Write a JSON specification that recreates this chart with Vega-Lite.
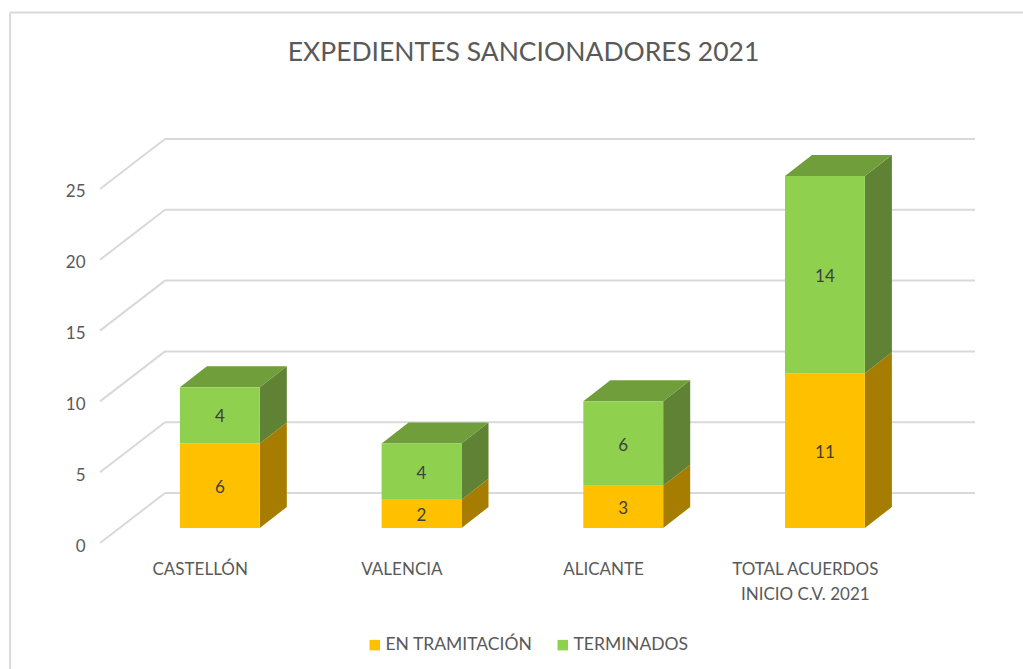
{
"$schema":"https://vega.github.io/schema/vega-lite/v6.json",
"width":875,"height":404,
"autosize":"none",
"padding":{"left":100,"top":139,"right":48,"bottom":126},
"background":"#ffffff",
"title":{"text":"EXPEDIENTES SANCIONADORES 2021","anchor":"middle","dx":-14,"offset":-55,"fontSize":26.5,"font":"Lato","fontWeight":"normal","color":"#595959"},
"config":{"view":{"stroke":null},"font":"Lato"},
"datasets":{
"expedientes":[
{"provincia":"CASTELLÓN","serie":"EN TRAMITACIÓN","valor":6},
{"provincia":"CASTELLÓN","serie":"TERMINADOS","valor":4},
{"provincia":"VALENCIA","serie":"EN TRAMITACIÓN","valor":2},
{"provincia":"VALENCIA","serie":"TERMINADOS","valor":4},
{"provincia":"ALICANTE","serie":"EN TRAMITACIÓN","valor":3},
{"provincia":"ALICANTE","serie":"TERMINADOS","valor":6},
{"provincia":"TOTAL ACUERDOS INICIO C.V. 2021","serie":"EN TRAMITACIÓN","valor":11},
{"provincia":"TOTAL ACUERDOS INICIO C.V. 2021","serie":"TERMINADOS","valor":14}
],
"rejilla":[{"v":0},{"v":5},{"v":10},{"v":15},{"v":20},{"v":25}],
"marco":[{"m":1}]
},
"layer":[
{"data":{"name":"marco"},
 "mark":{"type":"rule","stroke":"#d9d9d9","strokeWidth":2,"clip":false},
 "encoding":{
  "x":{"datum":-0.54,"type":"quantitative","scale":{"domain":[-0.0942,4.244],"nice":false,"zero":false},
   "axis":{"title":null,"values":[0.4,1.4,2.4,3.4],"domain":false,"ticks":false,"grid":false,"labelPadding":18,"labelFontSize":17,"labelColor":"#595959","labelFlush":false,"labelOverlap":false,"labelLineHeight":25,"labelBaseline":"top",
   "labelExpr":"['CASTELLÓN','VALENCIA','ALICANTE',['TOTAL ACUERDOS','INICIO C.V. 2021']][floor(datum.value)]"}},
  "y":{"datum":37.46,"type":"quantitative","scale":{"domain":[0,28.53],"nice":false,"zero":false},
   "axis":{"title":null,"values":[0,5,10,15,20,25],"domain":false,"ticks":false,"grid":false,"labelPadding":15,"labelFontSize":17,"labelColor":"#595959","labelOverlap":false,"labelFlush":false,"labelOffset":3}},
  "y2":{"datum":-8.9}
 }},
{"data":{"name":"marco"},
 "mark":{"type":"rule","stroke":"#d9d9d9","strokeWidth":2,"clip":false},
 "encoding":{"x":{"datum":-0.54,"type":"quantitative"},"x2":{"datum":4.482},"y":{"datum":37.46,"type":"quantitative"}}},
{"data":{"name":"rejilla"},
 "transform":[{"calculate":"datum.v+3.53","as":"vb"}],
 "mark":{"type":"rule","stroke":"#d9d9d9","strokeWidth":2},
 "encoding":{"x":{"datum":0.2281,"type":"quantitative"},"x2":{"datum":4.244},"y":{"field":"vb","type":"quantitative"}}},
{"data":{"name":"rejilla"},
 "transform":[{"calculate":"datum.v+3.53","as":"vb"}],
 "mark":{"type":"rule","stroke":"#d9d9d9","strokeWidth":2},
 "encoding":{"x":{"datum":-0.0942,"type":"quantitative"},"x2":{"datum":0.2281},"y":{"field":"v","type":"quantitative"},"y2":{"field":"vb"}}},
{"data":{"name":"expedientes"},
 "transform":[
  {"stack":"valor","groupby":["provincia"],"sort":[{"field":"serie","order":"ascending"}],"as":["s0","s1"]},
  {"calculate":"indexof(['CASTELLÓN','VALENCIA','ALICANTE','TOTAL ACUERDOS INICIO C.V. 2021'],datum.provincia)","as":"i"},
  {"calculate":"datum.i+0.5-0.198","as":"xl"},
  {"calculate":"datum.i+0.5+0.198","as":"xr"},
  {"calculate":"1.06+0.994*datum.s0","as":"yb"},
  {"calculate":"1.06+0.994*datum.s1","as":"yt"},
  {"calculate":"(datum.yb+datum.yt)/2","as":"ym"},
  {"calculate":"datum.i+0.5","as":"xm"}
 ],
 "layer":[
  {"transform":[{"filter":"datum.serie==='EN TRAMITACIÓN'"},{"calculate":"[0,1]","as":"k"},{"flatten":["k"]},
    {"calculate":"datum.xr+datum.k*0.134","as":"px"},{"calculate":"datum.yb+datum.k*1.483","as":"p1"},{"calculate":"datum.yt+datum.k*1.483","as":"p2"}],
   "mark":{"type":"area","orient":"vertical","color":"#A67D00"},
   "encoding":{"x":{"field":"px","type":"quantitative"},"y":{"field":"p1","type":"quantitative","stack":null},"y2":{"field":"p2"},"detail":{"field":"provincia"}}},
  {"transform":[{"filter":"datum.serie==='TERMINADOS'"},{"calculate":"[0,1]","as":"k"},{"flatten":["k"]},
    {"calculate":"datum.xr+datum.k*0.134","as":"px"},{"calculate":"datum.yb+datum.k*1.483","as":"p1"},{"calculate":"datum.yt+datum.k*1.483","as":"p2"}],
   "mark":{"type":"area","orient":"vertical","color":"#5F8234"},
   "encoding":{"x":{"field":"px","type":"quantitative"},"y":{"field":"p1","type":"quantitative","stack":null},"y2":{"field":"p2"},"detail":{"field":"provincia"}}},
  {"transform":[{"filter":"datum.serie==='TERMINADOS'"},{"calculate":"[0,1,2,3]","as":"k"},{"flatten":["k"]},
    {"calculate":"datum.k==0?datum.xl:datum.k==1?datum.xl+0.134:datum.k==2?datum.xr:datum.xr+0.134","as":"px"},
    {"calculate":"datum.k==0?datum.yt:datum.yt+1.483","as":"p1"},
    {"calculate":"datum.k==3?datum.yt+1.483:datum.yt","as":"p2"}],
   "mark":{"type":"area","orient":"vertical","color":"#6F9E3A"},
   "encoding":{"x":{"field":"px","type":"quantitative"},"y":{"field":"p1","type":"quantitative","stack":null},"y2":{"field":"p2"},"detail":{"field":"provincia"}}},
  {"mark":{"type":"rect"},
   "encoding":{"x":{"field":"xl","type":"quantitative"},"x2":{"field":"xr"},"y":{"field":"yb","type":"quantitative"},"y2":{"field":"yt"},
    "color":{"field":"serie","type":"nominal","scale":{"domain":["EN TRAMITACIÓN","TERMINADOS"],"range":["#FFC000","#8FD14F"]},
     "legend":{"title":null,"orient":"none","legendX":266,"legendY":497,"direction":"horizontal","symbolType":"square","symbolSize":110,"symbolStrokeWidth":0,"labelFontSize":17.5,"labelColor":"#595959","labelOffset":2,"columnPadding":21,"symbolOpacity":1}}}},
  {"mark":{"type":"text","fontSize":17,"color":"#404040","dy":2},
   "encoding":{"x":{"field":"xm","type":"quantitative"},"y":{"field":"ym","type":"quantitative"},"text":{"field":"valor","type":"quantitative"}}}
 ]}
]
}
